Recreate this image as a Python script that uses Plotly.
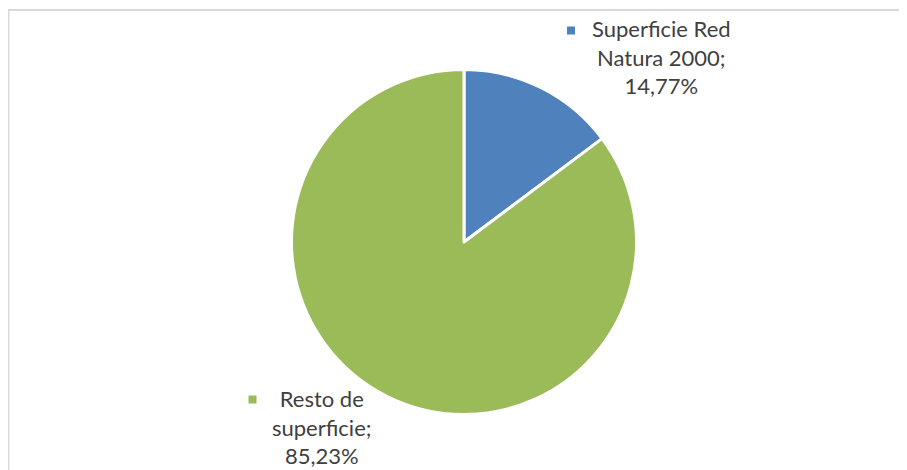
import textwrap
import plotly.graph_objects as go

# ---- data ----
categories = ["Superficie Red Natura 2000", "Resto de superficie"]
values = [14.77, 85.23]
colors = ["#4F81BD", "#9BBB59"]

# page body has an 8px margin; work in screen pixels and subtract it
OFF = 8
W, H = 907 - OFF, 470 - OFF


def px(x):
    return (x - OFF) / W


def py(y):
    return 1 - (y - OFF) / H


cx, cy, r = 464, 242, 172.5

fig = go.Figure()
fig.add_trace(go.Pie(
    labels=categories,
    values=values,
    sort=False,
    direction="clockwise",
    rotation=0,
    textinfo="none",
    hoverinfo="label+percent",
    marker=dict(colors=colors, line=dict(color="white", width=3)),
    domain=dict(x=[px(cx - r), px(cx + r)], y=[py(cy + r), py(cy - r)]),
    showlegend=False,
))

# label positions (layout): text centre x, middle-line centre y, key square centre
label_layout = [
    dict(tx=661, ty=57, sx=571, sy=30.5),
    dict(tx=322, ty=427, sx=252.5, sy=399.5),
]

annotations = []
shapes = []
for name, val, col, lay in zip(categories, values, colors, label_layout):
    pct = f"{val:.2f}".replace(".", ",") + "%"
    lines = textwrap.wrap(name + ";", 14) + [pct]
    annotations.append(dict(
        x=px(lay["tx"]), y=py(lay["ty"]), xref="paper", yref="paper",
        xanchor="center", yanchor="middle", align="center",
        text="<br>".join(lines), showarrow=False, borderpad=0,
        font=dict(family="Lato", size=22, color="#404040"),
    ))
    s = 4
    shapes.append(dict(
        type="rect", xref="paper", yref="paper",
        x0=px(lay["sx"] - s), x1=px(lay["sx"] + s),
        y0=py(lay["sy"] + s), y1=py(lay["sy"] - s),
        fillcolor=col, line=dict(width=0),
    ))

# chart frame (left and top edges visible)
shapes.append(dict(
    type="path", xref="paper", yref="paper",
    path=f"M {px(8.5)} -0.05 L {px(8.5)} {py(10)} L 1.05 {py(10)}",
    line=dict(color="#D9D9D9", width=2),
))

fig.update_layout(
    width=W, height=H,
    margin=dict(l=0, r=0, t=0, b=0),
    paper_bgcolor="white",
    plot_bgcolor="white",
    annotations=annotations,
    shapes=shapes,
)

fig.write_html("out.html")
